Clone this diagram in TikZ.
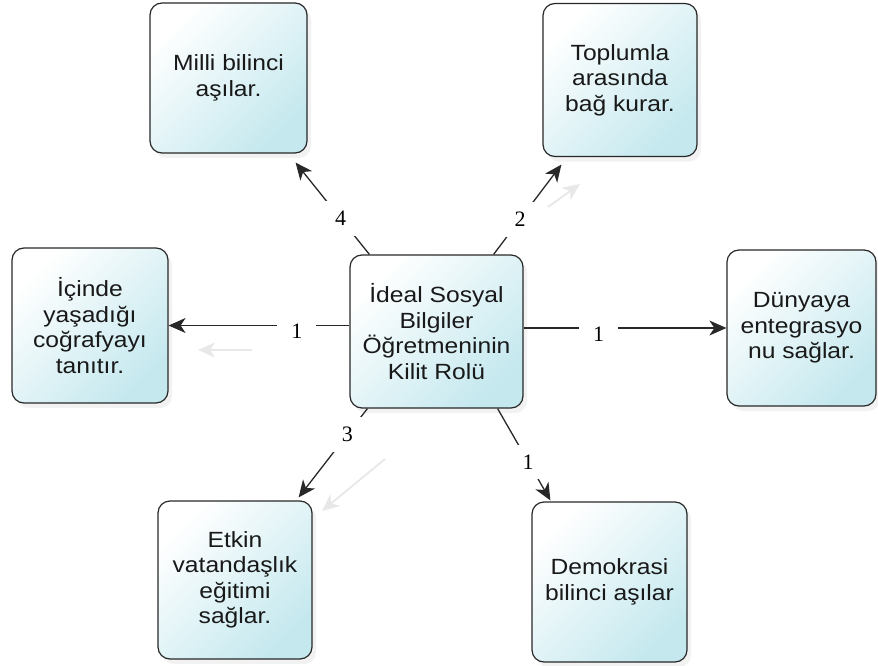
\documentclass[tikz,border=0pt]{standalone}
\usepackage{fontspec}
\newfontfamily\boxfont[FakeStretch=1.12]{Liberation Sans}
\newfontfamily\labfont{Liberation Serif}
\usetikzlibrary{arrows.meta,shadows,calc}
\definecolor{boxcyan}{RGB}{196,232,238}
\definecolor{edgegray}{RGB}{40,40,40}
\definecolor{txt}{RGB}{25,25,25}
\tikzset{
  card/.style={draw=edgegray, line width=1.2pt, rounded corners=12pt,
    top color=white, bottom color=boxcyan, shading angle=45,
    drop shadow={opacity=0.10, shadow xshift=4pt, shadow yshift=-5pt},
    align=center, font=\boxfont\fontsize{22}{25.5}\selectfont, text=txt, inner sep=0pt},
  conn/.style={draw=edgegray, line width=1.3pt, -{Stealth[length=17pt,width=15pt,inset=5pt]}},
  ghost/.style={draw=gray!18, line width=1.8pt, -{Stealth[length=17pt,width=15pt,inset=5pt]}},
  lab/.style={fill=white, font=\labfont\fontsize{22}{24}\selectfont, inner xsep=14pt, inner ysep=10pt, text=black},
}
\begin{document}
\begin{tikzpicture}[x=1pt,y=-1pt]
\useasboundingbox (0,0) rectangle (878,666);
\fill[white] (0,0) rectangle (878,666);

% faint ghost arrows
\coordinate (g1a) at (252,350); \coordinate (g1b) at (198,350);
\coordinate (g2a) at (548,207); \coordinate (g2b) at (580,184);
\coordinate (g3a) at (385,459); \coordinate (g3b) at (322,511);
\draw[ghost] (g1a) -- (g1b);
\draw[ghost] (g2a) -- (g2b);
\draw[ghost] (g3a) -- (g3b);

% boxes
\node[card, minimum width=157pt, minimum height=150pt] (m) at (228.5,78) {Milli bilinci\\aşılar.};
\node[card, minimum width=154pt, minimum height=153pt] (t) at (620,80) {Toplumla\\arasında\\bağ kurar.};
\node[card, minimum width=156pt, minimum height=155pt] (i) at (90,325.5) {İçinde\\yaşadığı\\coğrafyayı\\tanıtır.};
\node[card, minimum width=173pt, minimum height=153pt] (c) at (436.5,331.5) {İdeal Sosyal\\Bilgiler\\Öğretmeninin\\Kilit Rolü};
\node[card, minimum width=149pt, minimum height=156pt] (d) at (801.5,328) {Dünyaya\\entegrasyo\\nu sağlar.};
\node[card, minimum width=154pt, minimum height=158pt] (e) at (235,580) {Etkin\\vatandaşlık\\eğitimi\\sağlar.};
\node[card, minimum width=155pt, minimum height=160pt] (k) at (609.5,582) {Demokrasi\\bilinci aşılar};

% connectors
\draw[conn] ($(c.north west)+(20,0)$) -- node[lab,pos=0.39] (l4) {4} ($(m.south east)+(-12,9)$);
\draw[conn] ($(c.north east)+(-30,0)$) -- node[lab,pos=0.39] (l2) {2} ($(t.south west)+(19,7.5)$);
\draw[conn] (c.west |- i.east) -- node[lab,pos=0.29,yshift=-6pt] (l1a) {1} (i.east);
\draw[conn] (c.east |- d.west) -- node[lab,pos=0.37,yshift=-6pt] (l1b) {1} (d.west);
\draw[conn] ($(c.south west)+(18,0)$) -- node[lab,pos=0.29] (l3) {3} ($(e.north east)+(-14,-3)$);
\draw[conn] ($(c.south east)+(-26,0)$) -- node[lab,pos=0.58] (l1c) {1} ($(k.north west)+(19,-1)$);
\end{tikzpicture}
\end{document}
